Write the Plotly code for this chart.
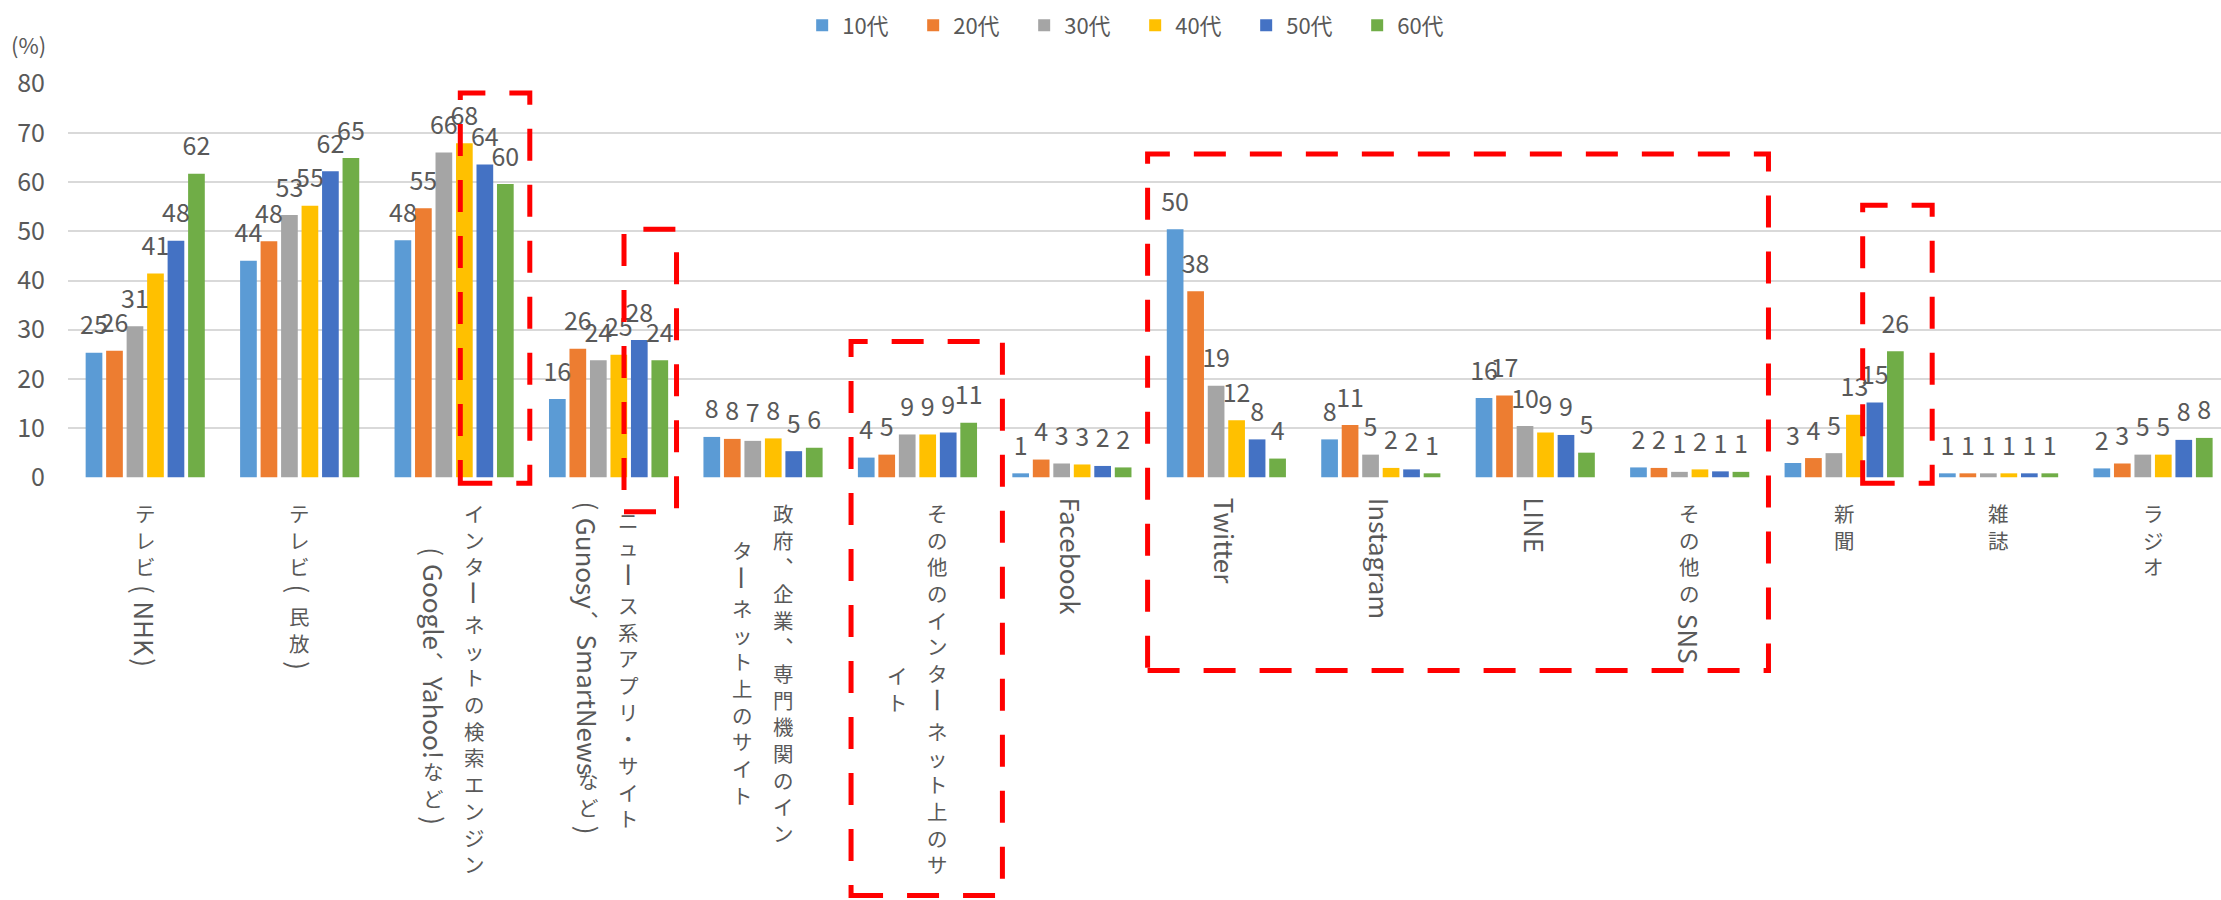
import plotly.graph_objects as go

# ---------------- data ----------------
categories = ["テレビ(NHK)", "テレビ(民放)", "インターネットの検索エンジン(Google、Yahoo!など)",
              "ニュース系アプリ・サイト(Gunosy、SmartNewsなど)", "政府、企業、専門機関のインターネット上のサイト",
              "その他のインターネット上のサイト", "Facebook", "Twitter", "Instagram", "LINE",
              "その他の SNS", "新聞", "雑誌", "ラジオ"]
# wrapped lines of each category label (first line is the right-most column)
label_lines = [
    ["テレビ(NHK)"],
    ["テレビ(民放)"],
    ["インターネットの検索エンジン", "(Google、Yahoo!など)"],
    ["ニュース系アプリ・サイト", "(Gunosy、SmartNewsなど)"],
    ["政府、企業、専門機関のイン", "ターネット上のサイト"],
    ["その他のインターネット上のサ", "イト"],
    ["Facebook"], ["Twitter"], ["Instagram"], ["LINE"],
    ["その他の SNS"], ["新聞"], ["雑誌"], ["ラジオ"],
]
age_groups = ["10代", "20代", "30代", "40代", "50代", "60代"]
age10 = [25.3, 44.0, 48.2, 15.9, 8.2, 4.0, 0.8, 50.4, 7.7, 16.1, 2.0, 2.9, 0.8, 1.8]
age20 = [25.7, 48.0, 54.7, 26.1, 7.8, 4.6, 3.6, 37.8, 10.6, 16.6, 1.9, 3.9, 0.8, 2.8]
age30 = [30.7, 53.3, 66.0, 23.8, 7.4, 8.7, 2.8, 18.6, 4.6, 10.4, 1.1, 4.9, 0.8, 4.6]
age40 = [41.4, 55.2, 67.9, 24.9, 7.9, 8.7, 2.6, 11.6, 1.9, 9.1, 1.6, 12.7, 0.8, 4.6]
age50 = [48.1, 62.2, 63.6, 27.9, 5.3, 9.1, 2.3, 7.7, 1.6, 8.6, 1.2, 15.2, 0.8, 7.6]
age60 = [61.7, 64.9, 59.6, 23.8, 6.0, 11.1, 2.0, 3.8, 0.8, 5.0, 1.1, 25.6, 0.8, 8.0]
series = [age10, age20, age30, age40, age50, age60]
y_ticks = [0, 10, 20, 30, 40, 50, 60, 70, 80]

# red dashed highlight boxes: (x0, x1) in category units, (y0, y1) in value units
highlight_x0 = [2.04, 3.10, 4.57, 6.49, 11.12]
highlight_x1 = [2.49, 3.44, 5.55, 10.51, 11.57]
highlight_y0 = [-1.2, -7.0, -85.0, -39.3, -1.2]
highlight_y1 = [78.1, 50.4, 27.6, 65.7, 55.3]

# ---------------- style ----------------
colors = ["#5B9BD5", "#ED7D31", "#A5A5A5", "#FFC000", "#4472C4", "#70AD47"]
TXT = "#595959"
FONT = "Noto Sans CJK JP"
BARGAP = 0.204
BARGROUPGAP = 0.185
YMIN, YMAX = -0.15, 80.15

x_idx = list(range(len(categories)))
fig = go.Figure()
n = len(series)
W = 1 - BARGAP
for j, (name, vals, col) in enumerate(zip(age_groups, series, colors)):
    fig.add_trace(go.Bar(x=x_idx, y=vals, name=name, marker=dict(color=col, line=dict(width=0)),
                         hoverinfo="skip"))
for j, (name, vals) in enumerate(zip(age_groups, series)):
    off = -W / 2 + (j + 0.5) * W / n
    fig.add_trace(go.Scatter(x=[i + off for i in x_idx], y=vals, mode="markers+text",
                             text=[str(int(v + 0.5)) for v in vals], textposition="top center",
                             textfont=dict(family=FONT, size=25, color=TXT),
                             marker=dict(size=18, opacity=0), showlegend=False,
                             hoverinfo="skip", cliponaxis=False))

# ---------------- vertical (tategaki) category labels ----------------
CJK_SIZE = 20.5
LAT_SIZE = 26
PITCH = 1.3 * CJK_SIZE          # plotly line spacing
PAREN_CELL = 18.5
GAP = 1.5
LINE_PITCH = 40.7
LABEL_TOP = 18.5
LAT_W = {'F': 0.48, 'a': 0.49, 'c': 0.45, 'e': 0.5, 'b': 0.55, 'o': 0.54, 'k': 0.5, 'T': 0.5,
         'w': 0.74, 'i': 0.25, 't': 0.34, 'r': 0.34, 'I': 0.26, 'n': 0.55, 's': 0.42, 'g': 0.5,
         'm': 0.83, 'L': 0.46, 'N': 0.64, 'E': 0.54, 'S': 0.53, 'G': 0.65, 'l': 0.26, 'Y': 0.49,
         'h': 0.54, '!': 0.29, 'u': 0.55, 'y': 0.47, 'H': 0.65, 'K': 0.59, ' ': 0.22}


def segments(line):
    segs, run, cjk = [], "", []

    def flush():
        nonlocal run, cjk
        if run:
            segs.append(("lat", run, sum(LAT_W.get(c, 0.52) for c in run) * LAT_SIZE + 3))
            run = ""
        if cjk:
            segs.append(("cjk", "<br>".join(cjk), len(cjk) * PITCH + 2))
            cjk = []

    for ch in line:
        if ord(ch) < 0x2000 and ch not in "()":
            if cjk:
                flush()
            run += ch
            continue
        if run:
            flush()
        if ch in "()ー":
            flush()
            segs.append(("rot", ch, PAREN_CELL if ch in "()" else PITCH))
        else:
            cjk.append("︑" if ch == "、" else ch)
    flush()
    return segs


annotations = []
for i, lines in enumerate(label_lines):
    segl = [segments(l) for l in lines]
    lens = [sum(s[2] + GAP for s in sg) for sg in segl]
    block = max(lens)
    nl = len(lines)
    for k, sg in enumerate(segl):
        xs = ((nl - 1) / 2 - k) * LINE_PITCH
        pos = LABEL_TOP + (block - lens[k]) / 2
        for kind, txt, ln in sg:
            if kind == "rot":
                ys, ya = -(pos + ln / 2), "middle"
            else:
                ys, ya = -pos, "top"
            annotations.append(dict(
                x=i, xref="x", xshift=xs, y=0, yref="paper", yshift=ys,
                text=txt, showarrow=False, xanchor="center", yanchor=ya, borderpad=0,
                textangle=0 if kind == "cjk" else 90,
                font=dict(family=FONT, size=CJK_SIZE if kind == "cjk" else LAT_SIZE, color=TXT)))
            pos += ln + GAP

annotations.append(dict(text="(%)", xref="paper", yref="paper", x=-40 / 2153, y=1.098,
                        showarrow=False, xanchor="center", yanchor="middle",
                        font=dict(family=FONT, size=22, color=TXT)))

shapes = []
for x0, x1, y0, y1 in zip(highlight_x0, highlight_x1, highlight_y0, highlight_y1):
    shapes.append(dict(type="rect", xref="x", yref="paper", x0=x0, x1=x1,
                       y0=(y0 - YMIN) / (YMAX - YMIN), y1=(y1 - YMIN) / (YMAX - YMIN),
                       line=dict(color="#FF0000", width=5, dash="32px,24px"),
                       fillcolor="rgba(0,0,0,0)", layer="above"))

fig.update_layout(
    width=2221, height=900,
    margin=dict(l=68, r=0, t=83, b=422),
    paper_bgcolor="white", plot_bgcolor="white",
    barmode="group", bargap=BARGAP, bargroupgap=BARGROUPGAP,
    font=dict(family=FONT, color=TXT),
    showlegend=True,
    legend=dict(orientation="h", x=0.341, xanchor="left", y=1.146, yanchor="middle",
                font=dict(family=FONT, size=22, color=TXT), entrywidth=66, entrywidthmode="pixels",
                bgcolor="rgba(0,0,0,0)"),
    xaxis=dict(range=[-0.5, 13.44], showgrid=False, zeroline=False, showticklabels=False,
               ticks="", showline=False, fixedrange=True),
    yaxis=dict(range=[YMIN, YMAX], tickvals=y_ticks, showgrid=True, gridcolor="#D9D9D9",
               gridwidth=1.6, zeroline=False, showline=False, ticks="",
               tickfont=dict(family=FONT, size=25, color=TXT), ticklabelstandoff=22),
    annotations=annotations,
    shapes=shapes,
)

fig.write_html("out.html")
